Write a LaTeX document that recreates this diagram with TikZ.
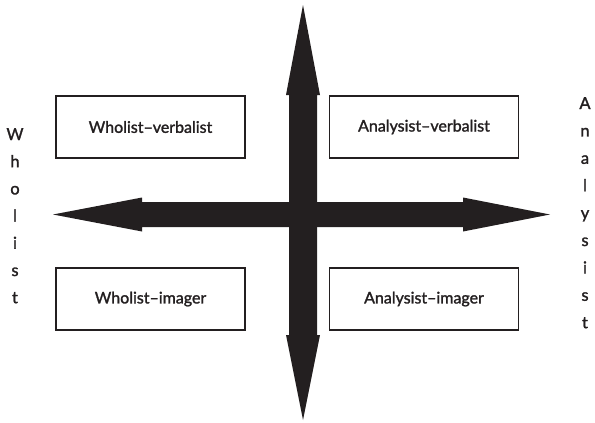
\documentclass[tikz,border=0pt]{standalone}
\usepackage{fontspec}
\setmainfont{Lato}[FakeBold=1.6]
\definecolor{ink}{HTML}{231F20}
\tikzset{
  stylebox/.style={draw=ink, line width=1.8pt, minimum width=189pt, minimum height=62pt,
    inner sep=0pt, font=\fontsize{16}{19}\selectfont, text=ink},
  letter/.style={anchor=base, inner sep=0pt, font=\fontsize{16.5}{19}\selectfont, text=ink}
}
\begin{document}
\begin{tikzpicture}[x=1pt,y=-1pt]
  \useasboundingbox (0,0) rectangle (595,423);
  %%%%%%%%%%%%%The two axes%%%%%%%%%%%%%%%%%%%%%%
  \fill[ink] (303,5) -- (320,95) -- (317,95) -- (317,335) -- (320,335) -- (303,420)
    -- (286,335) -- (289,335) -- (289,95) -- (286,95) -- cycle;
  \fill[ink] (53,214.5) -- (142,197.5) -- (142,202) -- (463,202) -- (463,197.5) -- (550,214.5)
    -- (463,231.5) -- (463,227) -- (142,227) -- (142,231.5) -- cycle;

  %%%%%%%%%%%%%The four boxes%%%%%%%%%%%%%%%%%%%%%%
  \node[stylebox] (wv) at (150.5,127) {Wholist--verbalist};
  \node[stylebox] (av) at (424,127) {Analysist--verbalist};
  \node[stylebox] (wi) at (150.5,299) {Wholist--imager};
  \node[stylebox] (ai) at (424,299) {Analysist--imager};

  %%%%%%%%%%%%%Wholist%%%%%%%%%%%%%%%%%%%%%%
  \node[letter] (w1) at (15,140) {W};
  \node[letter] (w2) at (15,167.2) {h};
  \node[letter] (w3) at (15,194.4) {o};
  \node[letter] (w4) at (15,221.6) {l};
  \node[letter] (w5) at (15,248.8) {i};
  \node[letter] (w6) at (15,276) {s};
  \node[letter] (w7) at (15,303.2) {t};

  %%%%%%%%%%%%%Analysist%%%%%%%%%%%%%%%%%%%%%%
  \node[letter] (a1) at (585,109) {A};
  \node[letter] (a2) at (585,136.4) {n};
  \node[letter] (a3) at (585,163.8) {a};
  \node[letter] (a4) at (585,191.2) {l};
  \node[letter] (a5) at (585,218.6) {y};
  \node[letter] (a6) at (585,246) {s};
  \node[letter] (a7) at (585,273.4) {i};
  \node[letter] (a8) at (585,300.8) {s};
  \node[letter] (a9) at (585,328.2) {t};
\end{tikzpicture}
\end{document}
